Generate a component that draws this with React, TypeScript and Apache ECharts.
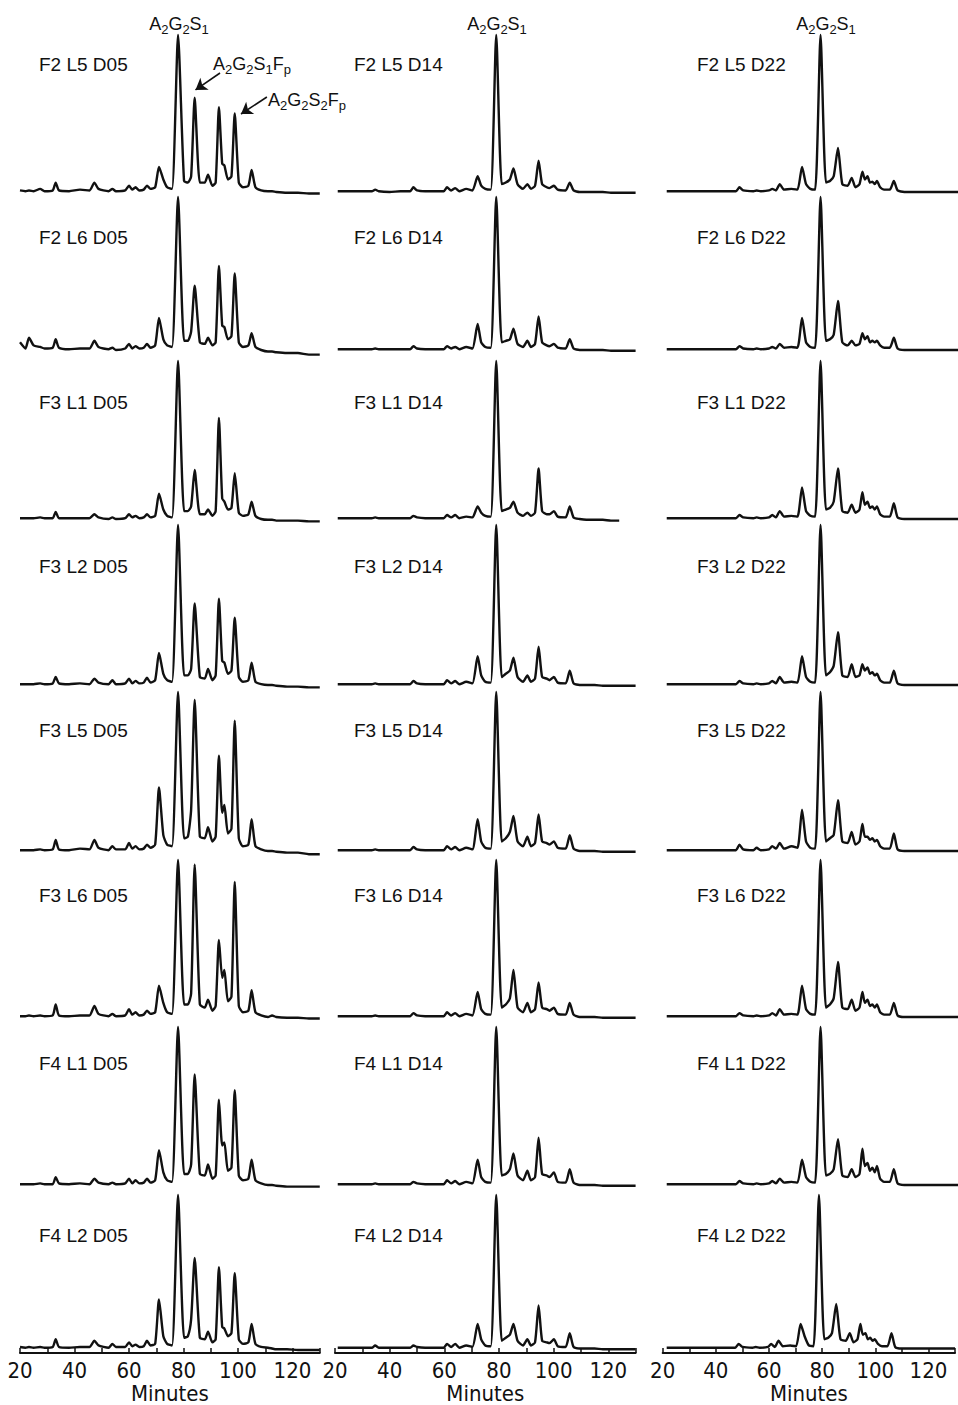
import React, { useEffect, useRef } from "react";
import * as echarts from "echarts";

// ---------- data ----------
const ROW_IDS = ["F2 L5", "F2 L6", "F3 L1", "F3 L2", "F3 L5", "F3 L6", "F4 L1", "F4 L2"];
const DAYS = ["D05", "D14", "D22"];
const X_TICKS = [20, 40, 60, 80, 100, 120];

// retention times (minutes) of the read points, one list per column
const T05 = [20, 22, 23.3, 25, 27.4, 29, 32, 33.1, 34.3, 38,
  42, 45.5, 47.3, 48.8, 52.5, 53.9, 55.2, 58.6, 60, 61.2,
  62.4, 63.8, 65.4, 66.6, 67.9, 69.6, 71, 72.6, 74, 75.8,
  78, 80.2, 81.6, 82.8, 84.1, 86, 87.8, 89, 90.6, 91.8,
  93, 94.2, 95, 96.3, 97.6, 98.8, 100.3, 101.8, 103.8, 105,
  106.4, 108.5, 111, 112.5, 114, 118, 122, 126, 130];
const T14 = [21, 24, 27, 30, 33.5, 34.7, 36, 40, 44, 47.5,
  48.7, 50, 53, 56, 59.8, 61, 62.5, 64, 65.5, 68,
  70.3, 72.2, 73.5, 75, 77, 79, 81, 82.5, 84, 85.3,
  86.8, 88.8, 90.4, 91.7, 93.2, 94.5, 95.8, 97.5, 98.5, 100.1,
  101.5, 104.4, 105.9, 107.3, 109.5, 112, 115, 118, 121, 124,
  127, 130];
const T22 = [21.5, 25, 30, 35, 40, 44, 47.3, 48.6, 50, 53.8,
  55, 56.5, 59.6, 60.8, 62.2, 63.6, 65.2, 68, 70.2, 71.9,
  73.4, 75, 76.8, 78.8, 80.8, 82.3, 83.7, 85.3, 86.9, 88.9,
  90.4, 91.8, 93.3, 94.4, 95.3, 96.3, 97.2, 98.1, 99, 99.8,
  101, 102.5, 104.6, 106.1, 107.5, 110, 114, 118, 122, 126,
  130];

// intensities, % of the A2G2S1 peak
const F2L5_D05 = [1, 0.5, 1, 0.5, 2, 0.5, 1, 6, 1, 0.5,
  1.5, 1, 6, 2, 0.5, 2, 0.5, 1, 4, 1.5,
  3, 1, 1.5, 4, 2, 3, 16, 8, 3, 2,
  100, 7, 6, 10, 60, 6, 6, 11, 4, 6,
  54, 18, 17, 8, 10, 50, 6, 3, 4, 14,
  3, 1, 0.5, 0.5, 0, -0.5, -0.5, -1, -1];
const F2L6_D05 = [5, 1, 8, 3, 2, 1, 1.5, 7, 1.5, 0.5,
  1, 1, 6, 2, 0.5, 1.5, 0, 1, 4, 1,
  2.5, 1, 1.5, 4, 1.5, 3, 21, 7, 3, 2,
  100, 6, 6, 12, 42, 5, 4, 8, 3, 5,
  55, 16, 15, 7, 9, 50, 5, 2, 3, 11,
  2, 0, -1, -1, -1.5, -2, -2, -3, -3];
const F3L1_D05 = [0.5, 0.5, 0.5, 0.5, 1, 0.5, 0.5, 4.5, 0.5, 0.5,
  0.5, 0.5, 3, 1, 0, 1, 0, 0.5, 3, 1,
  2, 0.5, 1, 3, 1, 2, 16, 6, 2, 1,
  100, 5, 5, 8, 31, 3, 3, 6, 2, 5,
  64, 13, 11, 6, 7, 29, 4, 2, 3, 11,
  2, 0, -0.5, -0.5, -1, -1, -1, -1.5, -1.5];
const F3L2_D05 = [0.5, 0.5, 0.5, 0.5, 1, 0.5, 1, 5, 1, 0.5,
  1, 0.5, 4, 1.5, 0.5, 3, 0.5, 1, 4, 1,
  2.5, 1, 1.5, 4.5, 1.5, 3, 20, 7, 3, 2,
  100, 6, 6, 10, 51, 5, 4, 10, 3, 6,
  54, 15, 14, 7, 9, 42, 5, 2, 3, 14,
  2, 0.5, 0, 0, -0.5, -1, -1, -1.5, -1.5];
const F3L5_D05 = [0.5, 0.5, 0.5, 0.5, 1, 0.5, 1, 7, 1, 0.5,
  1.5, 1, 7, 2, 0.5, 3, 1, 1, 5, 1.5,
  3, 1, 1.5, 4, 2, 4, 40, 10, 4, 3,
  100, 8, 9, 26, 95, 9, 8, 15, 6, 9,
  60, 24, 29, 11, 14, 82, 8, 3, 4, 20,
  3, 1, 0, 0, -0.5, -1, -1, -2, -2];
const F3L6_D05 = [0.5, 0.5, 1, 0.5, 1, 0.5, 1, 8, 1, 0.5,
  1, 1, 7, 2, 0.5, 2, 0.5, 1, 5, 1.5,
  3, 1, 1.5, 4, 2, 3, 20, 9, 3, 2,
  100, 8, 8, 15, 97, 8, 6, 11, 4, 7,
  49, 25, 30, 10, 13, 86, 7, 3, 4, 17,
  3, 1, 0, 1, 0, -0.5, -0.5, -1, -1];
const F4L1_D05 = [0.5, 0.5, 0.5, 0.5, 1, 0.5, 0.5, 5, 1, 0.5,
  1, 0.5, 4, 1.5, 0.5, 1.5, 0.5, 1, 4, 1,
  3, 1, 1.5, 4, 1.5, 3, 22, 8, 3, 2,
  100, 7, 7, 13, 70, 7, 6, 13, 4, 6,
  54, 25, 27, 9, 11, 60, 6, 3, 4, 16,
  3, 1, 0, 0, -0.5, -1, -1, -1, -1];
const F4L2_D05 = [1, 0.5, 1, 0.5, 1, 0.5, 1, 6, 1, 0.5,
  1, 1, 5, 2, 0.5, 3, 1, 1, 4, 1.5,
  2.5, 1, 1.5, 5, 2, 3, 32, 8, 3, 2,
  100, 7, 8, 19, 59, 7, 6, 11, 4, 6,
  53, 14, 13, 8, 10, 49, 6, 3, 4, 16,
  3, 1, 0.5, 0, -0.5, -0.5, -1, -1, -1];

const F2L5_D14 = [0.5, 0.5, 0.5, 0.5, 0.5, 1.5, 0.5, 0, 0.5, 0.5,
  3, 1, 0.5, 0.5, 0.5, 3, 1, 2.5, 0.5, 2,
  1, 10, 4, 2, 1.5, 100, 5, 6, 8, 15,
  5, 2, 5, 2, 4, 20, 5, 3, 2.5, 4,
  1.5, 1, 6, 1, 0, 0, 0, 0, -0.5, -0.5,
  -0.5, -0.5];
const F2L6_D14 = [0.5, 0.5, 0.5, 0.5, 0.5, 1, 0.5, 0.5, 0.5, 0.5,
  2.5, 1, 0.5, 0.5, 0.5, 2.5, 1, 2, 0.5, 2,
  1, 17, 5, 2, 1.5, 100, 5, 6, 7, 14,
  4, 2, 6, 2, 4, 22, 5, 3, 2.5, 4,
  1.5, 1, 7, 1, 0, 0, 0, 0, -0.5, -0.5,
  -0.5, -0.5];
const F3L1_D14 = [0.5, 0.5, 0.5, 0.5, 0.5, 1, 0.5, 0.5, 0.5, 0.5,
  2, 1, 0.5, 0.5, 0.5, 2.5, 1, 2.5, 0.5, 1.5,
  1, 8, 4, 2, 1.5, 100, 5, 6, 7, 11,
  4, 2, 4, 2, 4, 32, 5, 3, 3, 5,
  1.5, 1, 8, 1, 0, -0.5, -0.5, -0.5, -1, -1,
  null, null];
const F3L2_D14 = [0.5, 0.5, 0.5, 0.5, 0.5, 1, 0.5, 0.5, 0.5, 0.5,
  2.5, 1, 0.5, 0.5, 0.5, 3, 1, 2.5, 0.5, 2,
  1, 18, 6, 2, 1.5, 100, 5, 7, 9, 17,
  5, 2, 6, 2, 4, 24, 5, 4, 3, 5,
  1.5, 1, 9, 1, 0, 0, 0, -0.5, -0.5, -0.5,
  -0.5, -0.5];
const F3L5_D14 = [0.5, 0.5, 0.5, 0.5, 0.5, 1, 0.5, 0.5, 0.5, 0.5,
  2.5, 1, 0.5, 0.5, 0.5, 3, 1, 2.5, 0.5, 2,
  1, 20, 6, 2, 1.5, 100, 6, 8, 12, 22,
  6, 3, 9, 3, 5, 23, 6, 5, 4, 6,
  2, 1.5, 10, 1.5, 0, 0, 0, -0.5, -0.5, -0.5,
  -0.5, -0.5];
const F3L6_D14 = [0.5, 0.5, 0.5, 0.5, 0.5, 1, 0.5, 0.5, 0.5, 0.5,
  2.5, 1, 0.5, 0.5, 0.5, 3, 1, 2.5, 0.5, 2,
  1, 16, 5, 2, 1.5, 100, 6, 8, 12, 30,
  6, 3, 9, 3, 5, 22, 6, 5, 4, 6,
  2, 1.5, 9, 1.5, 0, 0, 0, -0.5, -0.5, -0.5,
  -0.5, -0.5];
const F4L1_D14 = [0.5, 0.5, 0.5, 0.5, 0.5, 1, 0.5, 0.5, 0.5, 0.5,
  2, 1, 0.5, 0.5, 0.5, 3, 1, 2.5, 0.5, 2,
  1, 16, 5, 2, 1.5, 100, 6, 7, 10, 20,
  6, 3, 9, 3, 5, 30, 7, 6, 5, 8,
  2, 1.5, 10, 1.5, 0, 0, 0, -0.5, -0.5, -0.5,
  -0.5, -0.5];
const F4L2_D14 = [0.5, 0.5, 0.5, 0.5, 0.5, 2, 0.5, 0.5, 0.5, 0.5,
  2, 1, 0.5, 0.5, 0.5, 3, 1, 3, 0.5, 2,
  1, 16, 6, 2, 1.5, 100, 5, 7, 9, 16,
  5, 2, 6, 2, 4, 28, 5, 4, 3.5, 6,
  1.5, 1, 10, 1, 0, 0, 0, -0.5, -0.5, -0.5,
  -0.5, -0.5];

const F2L5_D22 = [0.5, 0.5, 0.5, 0.5, 0.5, 0.5, 0.5, 3, 1, 0.5,
  1, 0.5, 1, 2, 1, 5, 1.5, 2, 1.5, 16,
  5, 2, 1.5, 100, 6, 7, 10, 28, 5, 4,
  9, 3, 5, 13, 8, 10, 6, 6.5, 5, 7,
  3, 1.5, 1.5, 7, 1, 0, 0, 0, 0, 0,
  0];
const F2L6_D22 = [0.5, 0.5, 0.5, 0.5, 0.5, 0.5, 0.5, 2.5, 1, 0.5,
  1, 0.5, 1, 2, 1, 4, 1.5, 2, 1.5, 21,
  5, 2, 1.5, 100, 6, 7, 10, 32, 5, 3,
  6, 3, 4, 11, 7, 9, 5, 6, 5, 6,
  3, 1.5, 1.5, 8, 1, 0, 0, 0, 0, 0,
  0];
const F3L1_D22 = [0.5, 0.5, 0.5, 0.5, 0.5, 0.5, 0.5, 2.5, 1, 0.5,
  1, 0.5, 1, 2.5, 1, 5, 1.5, 2, 1.5, 20,
  5, 2, 1.5, 100, 6, 7, 11, 32, 5, 4,
  9, 4, 6, 17, 9, 11, 7, 8, 6, 8,
  3, 1.5, 1.5, 10, 1, 0, 0, 0, 0, 0,
  0];
const F3L2_D22 = [0.5, 0.5, 0.5, 0.5, 0.5, 0.5, 0.5, 2.5, 1, 0.5,
  1, 0.5, 1, 2.5, 1, 5, 1.5, 2, 1.5, 18,
  5, 2, 1.5, 100, 6, 8, 12, 33, 6, 5,
  13, 5, 6, 13, 9, 11, 7, 8, 6, 7,
  3, 1.5, 1.5, 9, 1, 0, 0, 0, 0, 0,
  0];
const F3L5_D22 = [0.5, 0.5, 0.5, 0.5, 0.5, 0.5, 0.5, 4, 1, 0.5,
  2, 0.5, 1, 3, 1.5, 5, 1.5, 3, 2, 26,
  6, 2, 1.5, 100, 6, 8, 10, 32, 6, 5,
  12, 4, 6, 17, 9, 9, 7, 8, 6, 7,
  3, 1.5, 1.5, 11, 1, 0, 0, 0, 0, 0,
  0];
const F3L6_D22 = [0.5, 0.5, 0.5, 0.5, 0.5, 0.5, 0.5, 2.5, 1, 0.5,
  1, 0.5, 1, 2.5, 1, 5, 1.5, 2, 1.5, 20,
  5, 2, 1.5, 100, 6, 8, 12, 35, 6, 5,
  11, 4, 6, 16, 9, 11, 7, 8, 6, 8,
  3, 1.5, 1.5, 9, 1, 0, 0, 0, 0, 0,
  0];
const F4L1_D22 = [0.5, 0.5, 0.5, 0.5, 0.5, 0.5, 0.5, 2.5, 1, 0.5,
  1, 0.5, 1, 2.5, 1, 4, 1.5, 2, 1.5, 16,
  5, 2, 1.5, 100, 6, 7, 10, 29, 6, 5,
  10, 5, 7, 23, 12, 14, 9, 11, 8, 12,
  4, 2, 2, 10, 1, 0, 0, 0, 0, 0,
  0];
const F4L2_D22 = [0.5, 0.5, 0.5, 0.5, 0.5, 0.5, 0.5, 3, 1, 0.5,
  1, 0.5, 1, 3, 1, 5, 1.5, 2, 1.5, 16,
  8, 2, 1.5, 100, 6, 7, 10, 29, 6, 5,
  10, 4, 6, 16, 9, 10, 6, 7, 5, 6,
  3, 1.5, 1.5, 10, 1, 0, 0, 0, 0, 0,
  0];

const TIMES = [T05, T14, T22];
const TRACES: (number | null)[][][] = [
  [F2L5_D05, F2L5_D14, F2L5_D22],
  [F2L6_D05, F2L6_D14, F2L6_D22],
  [F3L1_D05, F3L1_D14, F3L1_D22],
  [F3L2_D05, F3L2_D14, F3L2_D22],
  [F3L5_D05, F3L5_D14, F3L5_D22],
  [F3L6_D05, F3L6_D14, F3L6_D22],
  [F4L1_D05, F4L1_D14, F4L1_D22],
  [F4L2_D05, F4L2_D14, F4L2_D22],
];

// arrows (data coords of first panel): [fromX, fromY, toX, toY]
const ARROW_S1FP = [93.4, 75.8, 84.4, 65];
const ARROW_S2FP = [110.6, 60.5, 101.1, 49.7];

// ---------- layout ----------
const FONT = "'Liberation Sans', Arial, Helvetica, sans-serif";
const NARROW = "'Liberation Sans Narrow', 'Arial Narrow', 'DejaVu Sans Condensed', sans-serif";
const INK = "#111";
const COL_LEFT = [20, 335, 662.7];
const COL_WIDTH = [299.75, 300.6, 300.6];
const ROW_TOP = [35, 197, 361, 525, 692, 860, 1027, 1195];
const ROW_BASE = [192, 350, 519, 685, 851, 1017, 1185, 1353];
const LABEL_Y = [64, 237, 402, 566, 730, 895, 1063, 1235];
const LABEL_X = [39, 354, 697];
const TITLE_X = [179, 497, 826];
const Y_MIN = -3;
const Y_MAX = 100;

const richSub = {
  m: { fontSize: 18, lineHeight: 24, fontFamily: FONT, fill: INK },
  s: { fontSize: 13, lineHeight: 13, fontFamily: FONT, fill: INK, verticalAlign: "bottom" },
};

export default function App() {
  const ref = useRef<HTMLDivElement>(null);
  useEffect(() => {
    const el = ref.current;
    if (!el) return;
    const chart = echarts.init(el, null, { renderer: "svg" });
    const grid: any[] = [];
    const xAxis: any[] = [];
    const yAxis: any[] = [];
    const series: any[] = [];
    const graphic: any[] = [];
    const nRows = ROW_IDS.length;

    for (let r = 0; r < nRows; r++) {
      for (let c = 0; c < 3; c++) {
        const idx = grid.length;
        const h = (ROW_BASE[r] - ROW_TOP[r]) * (Y_MAX - Y_MIN) / Y_MAX;
        grid.push({ left: COL_LEFT[c], top: ROW_TOP[r], width: COL_WIDTH[c], height: h, containLabel: false });
        const bottom = r === nRows - 1;
        xAxis.push({
          type: "value", gridIndex: idx, min: 20, max: 130, interval: 10,
          show: bottom,
          axisLine: { show: true, onZero: false, lineStyle: { color: INK, width: 2 } },
          axisTick: { show: true, inside: true, length: 5, lineStyle: { color: INK, width: 1.5 } },
          axisLabel: {
            show: true, margin: 6, fontSize: 22, color: INK, fontFamily: NARROW,
            formatter: (v: number) => (X_TICKS.indexOf(v) >= 0 ? String(v) : ""),
          },
          splitLine: { show: false },
          name: bottom ? "Minutes" : "",
          nameLocation: "middle", nameGap: 24,
          nameTextStyle: { fontSize: 22, color: INK, fontFamily: NARROW },
        });
        yAxis.push({ type: "value", gridIndex: idx, min: Y_MIN, max: Y_MAX, show: false, splitLine: { show: false } });
        const t = TIMES[c];
        const v = TRACES[r][c];
        const data: number[][] = [];
        for (let k = 0; k < t.length; k++) {
          if (v[k] !== null && v[k] !== undefined) data.push([t[k], v[k] as number]);
        }
        const s: any = {
          type: "line", name: `${ROW_IDS[r]} ${DAYS[c]}`, xAxisIndex: idx, yAxisIndex: idx,
          data, showSymbol: false, symbol: "none", clip: false, silent: true,
          smooth: 0.2,
          lineStyle: { color: INK, width: 2.4, join: "round" },
        };
        if (r === 0 && c === 0) {
          s.markLine = {
            silent: true, animation: false,
            symbol: ["none", "arrow"], symbolSize: 11,
            lineStyle: { color: INK, width: 1.6, type: "solid" },
            label: { show: false },
            emphasis: { disabled: true },
            data: [
              [{ coord: [ARROW_S1FP[0], ARROW_S1FP[1]] }, { coord: [ARROW_S1FP[2], ARROW_S1FP[3]] }],
              [{ coord: [ARROW_S2FP[0], ARROW_S2FP[1]] }, { coord: [ARROW_S2FP[2], ARROW_S2FP[3]] }],
            ],
          };
        }
        series.push(s);
        graphic.push({
          type: "text", x: LABEL_X[c], y: LABEL_Y[r], silent: true,
          style: {
            text: `${ROW_IDS[r]} ${DAYS[c]}`, fontSize: 19, fontFamily: FONT, fill: INK,
            align: "left", verticalAlign: "middle", textAlign: "left", textVerticalAlign: "middle",
          },
        });
      }
    }

    for (let c = 0; c < 3; c++) {
      graphic.push({
        type: "text", x: TITLE_X[c], y: 24, silent: true,
        style: {
          text: "{m|A}{s|2}{m|G}{s|2}{m|S}{s|1}", rich: richSub, fill: INK,
          align: "center", verticalAlign: "middle", textAlign: "center", textVerticalAlign: "middle",
        },
      });
    }
    graphic.push({
      type: "text", x: 213, y: 64, silent: true,
      style: {
        text: "{m|A}{s|2}{m|G}{s|2}{m|S}{s|1}{m|F}{s|p}", rich: richSub, fill: INK,
        align: "left", verticalAlign: "middle", textAlign: "left", textVerticalAlign: "middle",
      },
    });
    graphic.push({
      type: "text", x: 268, y: 100, silent: true,
      style: {
        text: "{m|A}{s|2}{m|G}{s|2}{m|S}{s|2}{m|F}{s|p}", rich: richSub, fill: INK,
        align: "left", verticalAlign: "middle", textAlign: "left", textVerticalAlign: "middle",
      },
    });

    chart.setOption({
      animation: false,
      backgroundColor: "#fff",
      grid, xAxis, yAxis, series, graphic,
    });
    return () => chart.dispose();
  }, []);
  return (
    <div
      ref={ref}
      style={{ position: "absolute", left: 0, top: 0, width: 958, height: 1405, background: "#fff", overflow: "hidden" }}
    />
  );
}
